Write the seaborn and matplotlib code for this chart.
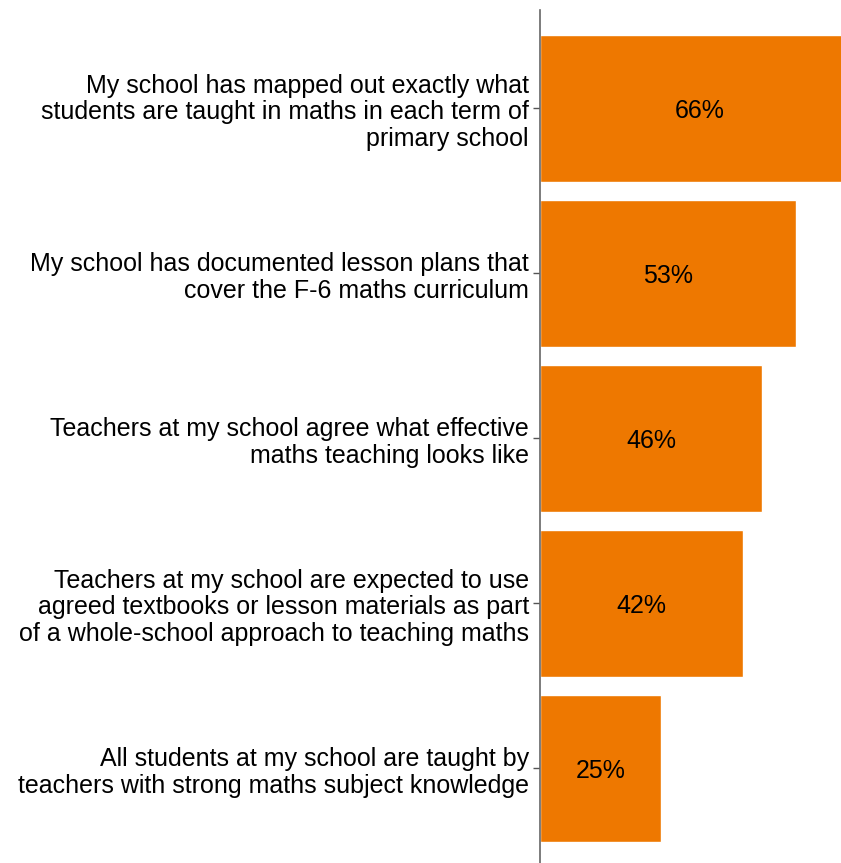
import matplotlib
matplotlib.use("Agg")
import matplotlib.pyplot as plt
import seaborn as sns
import pandas as pd

statements = [
    "My school has mapped out exactly what\nstudents are taught in maths in each term of\nprimary school",
    "My school has documented lesson plans that\ncover the F-6 maths curriculum",
    "Teachers at my school agree what effective\nmaths teaching looks like",
    "Teachers at my school are expected to use\nagreed textbooks or lesson materials as part\nof a whole-school approach to teaching maths",
    "All students at my school are taught by\nteachers with strong maths subject knowledge",
]
shares = [66, 53, 46, 42, 25]
bar_colour = "#EE7800"

df = pd.DataFrame({"statement": statements, "share": shares})

sns.set_theme(style="white")
plt.rcParams["font.family"] = ["Liberation Sans", "DejaVu Sans"]

W, H = 841, 863
fig = plt.figure(figsize=(W / 100, H / 100), dpi=100)
ax = fig.add_axes([540 / W, 0, (W - 540) / W, (H - 10) / H])

sns.barplot(data=df, x="share", y="statement", color=bar_colour,
            saturation=1, width=0.89, ax=ax, orient="h")

# the longest bar runs past the right edge of the figure
ax.set_xlim(0, 62.3)
ax.set_ylim(4.573, -0.597)

for i, v in enumerate(shares):
    ax.text(v / 2, i + 0.015, f"{v}%", ha="center", va="center",
            fontsize=18, color="black", clip_on=False)

ax.set_xlabel("")
ax.set_ylabel("")
ax.set_xticks([])
for s in ["top", "right", "bottom"]:
    ax.spines[s].set_visible(False)
ax.spines["left"].set_color("#666666")
ax.spines["left"].set_linewidth(1.2)
ax.tick_params(axis="y", left=True, length=5, width=1, color="#555555",
               pad=3, labelsize=18, labelcolor="black")
for lbl in ax.get_yticklabels():
    lbl.set_horizontalalignment("right")
    lbl.set_multialignment("right")
    lbl.set_linespacing(1.14)

fig.savefig("out.png", dpi=100)
